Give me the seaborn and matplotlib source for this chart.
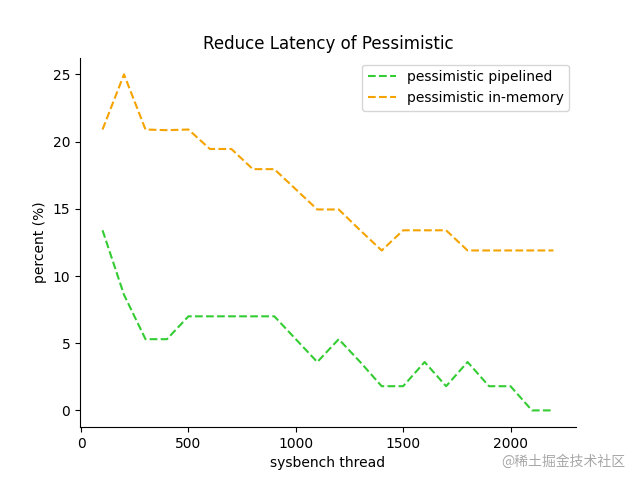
import matplotlib
matplotlib.use("Agg")
import matplotlib.pyplot as plt
import seaborn as sns
import pandas as pd

threads = [100, 200, 300, 400, 500, 600, 700, 800, 900, 1000, 1100,
           1200, 1300, 1400, 1500, 1600, 1700, 1800, 1900, 2000, 2100, 2200]
pipelined = [13.4, 8.6, 5.3, 5.3, 7.0, 7.0, 7.0, 7.0, 7.0, 5.3, 3.6,
             5.3, 3.6, 1.8, 1.8, 3.6, 1.8, 3.6, 1.8, 1.8, 0.0, 0.0]
in_memory = [20.9, 25.0, 20.9, 20.85, 20.9, 19.45, 19.45, 17.95, 17.95, 16.45, 14.95,
             14.95, 13.4, 11.9, 13.4, 13.4, 13.4, 11.9, 11.9, 11.9, 11.9, 11.9]
series_names = ["pessimistic pipelined", "pessimistic in-memory"]
colors = ["#33cc33", "#f5a300"]

sns.set_style("white")
plt.rcParams['font.family'] = ['DejaVu Sans', 'Noto Sans CJK SC']
plt.rcParams['text.color'] = 'black'
plt.rcParams['axes.labelcolor'] = 'black'
plt.rcParams['xtick.color'] = 'black'
plt.rcParams['ytick.color'] = 'black'

df = pd.DataFrame({"thread": threads * 2,
                   "value": pipelined + in_memory,
                   "series": [series_names[0]] * len(threads) + [series_names[1]] * len(threads)})

fig, ax = plt.subplots(figsize=(6.4, 4.8), dpi=100)
sns.lineplot(data=df, x="thread", y="value", hue="series", palette=colors,
             ax=ax, linestyle="--", linewidth=1.5)
for line in ax.get_lines():
    line.set_linestyle("--")
ax.legend(handles=[plt.Line2D([], [], color=c, linestyle="--", linewidth=1.5) for c in colors],
          labels=series_names, loc="upper right", fontsize=10, labelcolor="black")
ax.set_title("Reduce Latency of Pessimistic", fontsize=12, color="black")
ax.set_xlabel("sysbench thread", color="black")
ax.set_ylabel("percent (%)", color="black")
ax.tick_params(axis="both", which="both", bottom=True, left=True, length=3.5, width=0.8,
               colors="black", labelcolor="black")
for s in ["left", "bottom"]:
    ax.spines[s].set_color("black")
    ax.spines[s].set_linewidth(0.8)
sns.despine(ax=ax)
ax.set_xticks([0, 500, 1000, 1500, 2000])
fig.text(0.977, 0.038, "@稀土掘金技术社区", ha="right", va="center", fontsize=10,
         color="#a8a8a8", family=['Noto Sans CJK SC', 'DejaVu Sans'])
fig.savefig("out.png", dpi=100)
